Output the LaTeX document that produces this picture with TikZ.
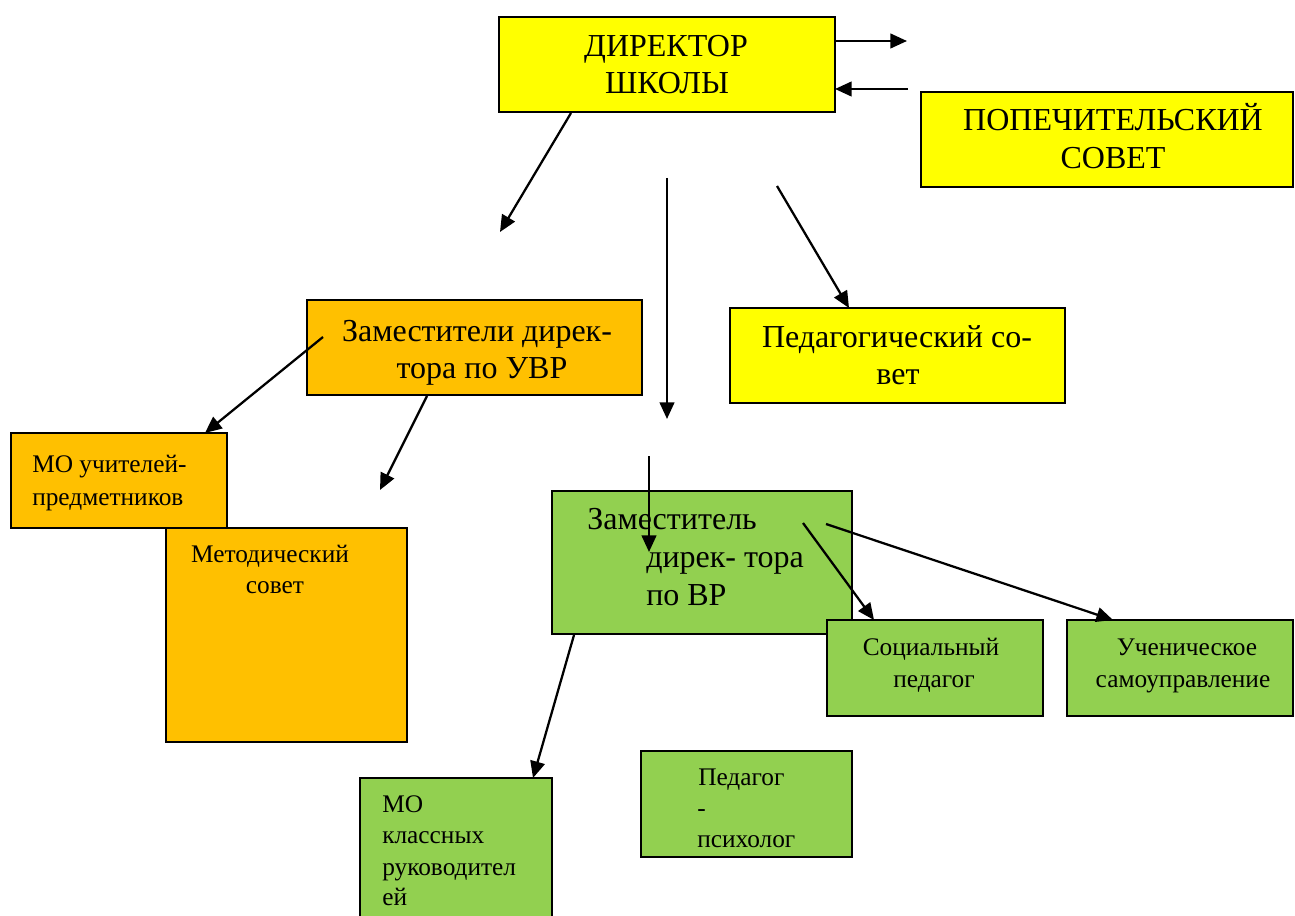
\documentclass[tikz,border=0pt]{standalone}
\usepackage{fontspec}
\setmainfont{Liberation Serif}
\usetikzlibrary{arrows.meta}
\definecolor{yel}{HTML}{FFFF00}
\definecolor{ora}{HTML}{FFC000}
\definecolor{grn}{HTML}{92D050}
\begin{document}
\begin{tikzpicture}[x=0.75pt,y=-0.75pt,
  box/.style={draw=black, line width=1.4pt, inner sep=0pt, outer sep=0pt},
  big/.style={font=\fontsize{24}{28}\selectfont, inner sep=0pt, anchor=base},
  small/.style={font=\fontsize{19}{23}\selectfont, inner sep=0pt, anchor=base},
  lbig/.style={big, anchor=base west},
  lsmall/.style={small, anchor=base west},
  arr/.style={line width=1.7pt, -{Triangle[length=12.5pt,width=11pt]}}]
\useasboundingbox (0,0) rectangle (1295,916);
\clip (0,0) rectangle (1295,916);
\fill[white] (0,0) rectangle (1295,916);

% boxes
\node[box, fill=yel, minimum width=336*0.75pt, minimum height=95*0.75pt] (dir) at (667,64.5) {};
\node[box, fill=yel, minimum width=372*0.75pt, minimum height=95*0.75pt] (pop) at (1107,139.5) {};
\node[box, fill=ora, minimum width=335*0.75pt, minimum height=95*0.75pt] (uvr) at (474.5,347.5) {};
\node[box, fill=yel, minimum width=335*0.75pt, minimum height=95*0.75pt] (ped) at (897.5,355.5) {};
\node[box, fill=ora, minimum width=241*0.75pt, minimum height=214*0.75pt] (met) at (286.5,635) {};
\node[box, fill=ora, minimum width=216*0.75pt, minimum height=95*0.75pt] (moup) at (119,480.5) {};
\node[box, fill=grn, minimum width=300*0.75pt, minimum height=143*0.75pt] (vr) at (702,562.5) {};
\node[box, fill=grn, minimum width=216*0.75pt, minimum height=96*0.75pt] (soc) at (935,668) {};
\node[box, fill=grn, minimum width=226*0.75pt, minimum height=96*0.75pt] (uch) at (1180,668) {};
\node[box, fill=grn, minimum width=211*0.75pt, minimum height=106*0.75pt] (psy) at (746.5,804) {};
\node[box, fill=grn, minimum width=192*0.75pt, minimum height=160*0.75pt] (mok) at (456,858) {};

% texts
\node[big] (t1) at (666,57) {ДИРЕКТОР};
\node[big] (t2) at (667,94) {ШКОЛЫ};
\node[big] (t3) at (1113,131) {ПОПЕЧИТЕЛЬСКИЙ};
\node[big] (t4) at (1113,169) {СОВЕТ};
\node[big] (t5) at (477,341) {Заместители дирек-};
\node[big] (t6) at (482,378) {тора по УВР};
\node[big] (t7) at (897,347) {Педагогический со-};
\node[big] (t8) at (898,384) {вет};
\node[lsmall] (t9) at (32,472) {МО учителей-};
\node[lsmall] (t10) at (32,505) {предметников};
\node[small] (t11) at (270,562) {Методический};
\node[small] (t12) at (275,593) {совет};
\node[lbig] (t13) at (587,529) {Заместитель};
\node[lbig] (t14) at (646,567) {дирек- тора};
\node[lbig] (t15) at (646,605) {по ВР};
\node[small] (t16) at (931,655) {Социальный};
\node[small] (t17) at (934,687) {педагог};
\node[small] (t18) at (1187,655) {Ученическое};
\node[small] (t19) at (1183,687) {самоуправление};
\node[lsmall] (t20) at (698,785) {Педагог};
\node[lsmall] (t21) at (697,816) {-};
\node[lsmall] (t22) at (697,847) {психолог};
\node[lsmall] (t23) at (382,812) {МО};
\node[lsmall] (t24) at (382,843) {классных};
\node[lsmall] (t25) at (382,875) {руководител};
\node[lsmall] (t26) at (382,905) {ей};

% free ends / start points
\coordinate (c1) at (907,41);
\coordinate (c2) at (908,89);
\coordinate (c3s) at (571,113);
\coordinate (c3) at (500,232);
\coordinate (c4s) at (667,178);
\coordinate (c4) at (667,419);
\coordinate (c5s) at (777,186);
\coordinate (c6s) at (323,337);
\coordinate (c7s) at (427,396);
\coordinate (c7) at (380,490);
\coordinate (c8s) at (649,456);
\coordinate (c8) at (649,552);
\coordinate (c9s) at (803,523);
\coordinate (c10s) at (826,524);
\coordinate (c11s) at (574,635);

% connectors
\draw[arr] (dir.east |- c1) -- (c1);
\draw[arr] (c2) -- (dir.east |- c2);
\draw[arr] (c3s) -- (c3);
\draw[arr] (c4s) -- (c4);
\draw[arr] (c5s) -- (849,0 |- ped.north);
\draw[arr] (c6s) -- (205,0 |- moup.north);
\draw[arr] (c7s) -- (c7);
\draw[arr] (c8s) -- (c8);
\draw[arr] (c9s) -- (874,0 |- soc.north);
\draw[arr] (c10s) -- (1113,0 |- uch.north);
\draw[arr] (c11s) -- (533,0 |- mok.north);
\end{tikzpicture}
\end{document}
